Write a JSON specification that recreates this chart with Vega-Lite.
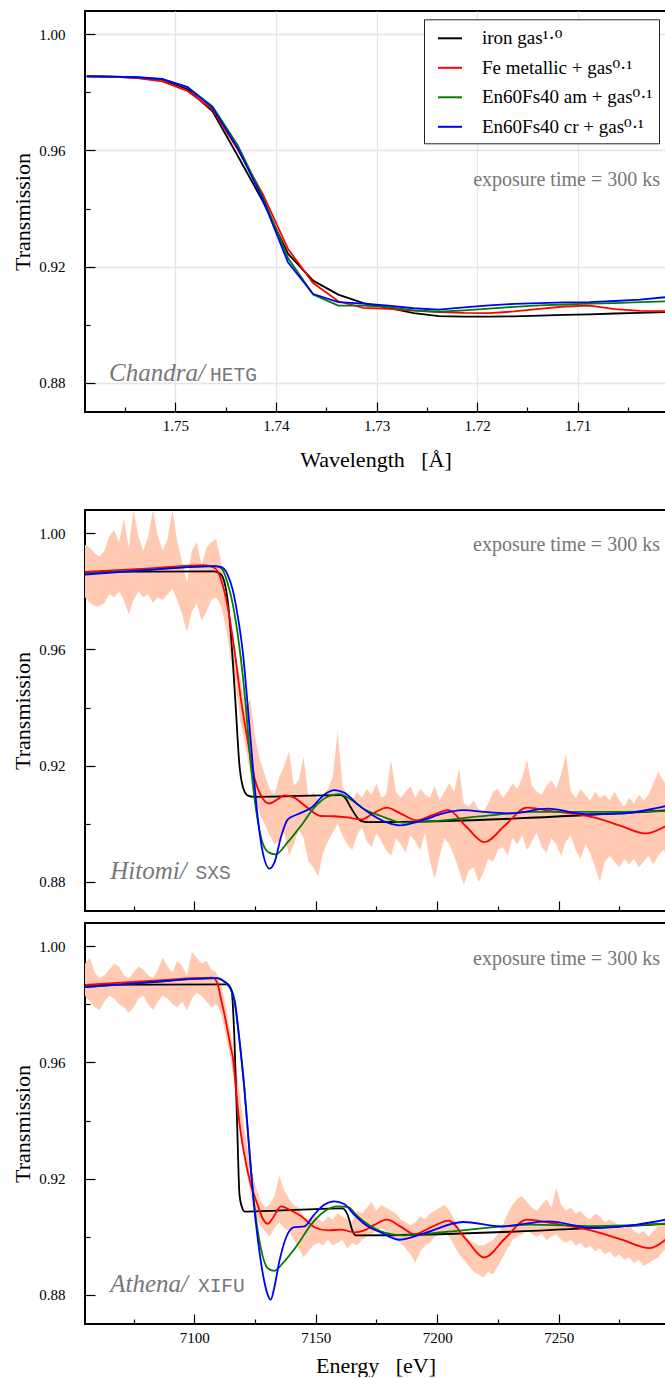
{
  "$schema": "https://vega.github.io/schema/vega-lite/v6.json",
  "background": "white",
  "padding": {"left": 10, "top": 10, "right": 0, "bottom": 0},
  "config": {
    "view": {"stroke": "black", "strokeWidth": 2},
    "axis": {
      "domain": false, "grid": true, "gridColor": "#e4e4e4", "gridWidth": 1.3,
      "tickColor": "black", "tickWidth": 1.2,
      "labelFont": "Liberation Serif", "labelFontSize": 15, "labelColor": "black",
      "titleFont": "Liberation Serif", "titleFontSize": 22, "titleFontWeight": "normal", "titleColor": "black"
    },
    "legend": {
      "orient": "none", "legendX": 339, "legendY": 8.3, "fillColor": "white", "strokeColor": "#222222",
      "padding": 6, "cornerRadius": 0, "symbolType": "stroke", "symbolSize": 576, "symbolOffset": 7,
      "symbolStrokeWidth": 2, "labelFont": "Liberation Serif, DejaVu Serif, serif", "labelFontSize": 19, "labelColor": "black",
      "labelOffset": 19, "rowPadding": 6.5, "labelLimit": 400
    }
  },
  "datasets": {
    "chandra": [
      {"lam": 1.7588, "T": 0.9855, "s": "iron gas"}, {"lam": 1.7563, "T": 0.9853, "s": "iron gas"}, {"lam": 1.7538, "T": 0.9851, "s": "iron gas"}, {"lam": 1.7513, "T": 0.9844, "s": "iron gas"}, {"lam": 1.7488, "T": 0.9811, "s": "iron gas"}, {"lam": 1.7463, "T": 0.9735, "s": "iron gas"}, {"lam": 1.7438, "T": 0.9582, "s": "iron gas"}, {"lam": 1.7413, "T": 0.9425, "s": "iron gas"}, {"lam": 1.7388, "T": 0.9245, "s": "iron gas"}, {"lam": 1.7363, "T": 0.9152, "s": "iron gas"}, {"lam": 1.7338, "T": 0.9104, "s": "iron gas"}, {"lam": 1.7313, "T": 0.9075, "s": "iron gas"}, {"lam": 1.7288, "T": 0.9058, "s": "iron gas"}, {"lam": 1.7263, "T": 0.9040, "s": "iron gas"}, {"lam": 1.7238, "T": 0.9030, "s": "iron gas"}, {"lam": 1.7213, "T": 0.9028, "s": "iron gas"}, {"lam": 1.7188, "T": 0.9028, "s": "iron gas"}, {"lam": 1.7163, "T": 0.9029, "s": "iron gas"}, {"lam": 1.7138, "T": 0.9032, "s": "iron gas"}, {"lam": 1.7113, "T": 0.9034, "s": "iron gas"}, {"lam": 1.7088, "T": 0.9036, "s": "iron gas"}, {"lam": 1.7063, "T": 0.9039, "s": "iron gas"}, {"lam": 1.7038, "T": 0.9041, "s": "iron gas"}, {"lam": 1.7013, "T": 0.9044, "s": "iron gas"},
      {"lam": 1.7588, "T": 0.9857, "s": "Fe metallic"}, {"lam": 1.7563, "T": 0.9854, "s": "Fe metallic"}, {"lam": 1.7538, "T": 0.9849, "s": "Fe metallic"}, {"lam": 1.7513, "T": 0.9838, "s": "Fe metallic"}, {"lam": 1.7488, "T": 0.9805, "s": "Fe metallic"}, {"lam": 1.7463, "T": 0.9741, "s": "Fe metallic"}, {"lam": 1.7438, "T": 0.9603, "s": "Fe metallic"}, {"lam": 1.7413, "T": 0.9450, "s": "Fe metallic"}, {"lam": 1.7388, "T": 0.9261, "s": "Fe metallic"}, {"lam": 1.7363, "T": 0.9144, "s": "Fe metallic"}, {"lam": 1.7338, "T": 0.9081, "s": "Fe metallic"}, {"lam": 1.7313, "T": 0.9058, "s": "Fe metallic"}, {"lam": 1.7288, "T": 0.9055, "s": "Fe metallic"}, {"lam": 1.7263, "T": 0.9049, "s": "Fe metallic"}, {"lam": 1.7238, "T": 0.9044, "s": "Fe metallic"}, {"lam": 1.7213, "T": 0.9041, "s": "Fe metallic"}, {"lam": 1.7188, "T": 0.9040, "s": "Fe metallic"}, {"lam": 1.7163, "T": 0.9046, "s": "Fe metallic"}, {"lam": 1.7138, "T": 0.9055, "s": "Fe metallic"}, {"lam": 1.7113, "T": 0.9063, "s": "Fe metallic"}, {"lam": 1.7088, "T": 0.9066, "s": "Fe metallic"}, {"lam": 1.7063, "T": 0.9054, "s": "Fe metallic"}, {"lam": 1.7038, "T": 0.9048, "s": "Fe metallic"}, {"lam": 1.7013, "T": 0.9047, "s": "Fe metallic"},
      {"lam": 1.7588, "T": 0.9855, "s": "En60Fs40 am"}, {"lam": 1.7563, "T": 0.9854, "s": "En60Fs40 am"}, {"lam": 1.7538, "T": 0.9852, "s": "En60Fs40 am"}, {"lam": 1.7513, "T": 0.9845, "s": "En60Fs40 am"}, {"lam": 1.7488, "T": 0.9818, "s": "En60Fs40 am"}, {"lam": 1.7463, "T": 0.9752, "s": "En60Fs40 am"}, {"lam": 1.7438, "T": 0.9618, "s": "En60Fs40 am"}, {"lam": 1.7413, "T": 0.9440, "s": "En60Fs40 am"}, {"lam": 1.7388, "T": 0.9230, "s": "En60Fs40 am"}, {"lam": 1.7363, "T": 0.9104, "s": "En60Fs40 am"}, {"lam": 1.7338, "T": 0.9066, "s": "En60Fs40 am"}, {"lam": 1.7313, "T": 0.9066, "s": "En60Fs40 am"}, {"lam": 1.7288, "T": 0.9061, "s": "En60Fs40 am"}, {"lam": 1.7263, "T": 0.9050, "s": "En60Fs40 am"}, {"lam": 1.7238, "T": 0.9045, "s": "En60Fs40 am"}, {"lam": 1.7213, "T": 0.9050, "s": "En60Fs40 am"}, {"lam": 1.7188, "T": 0.9056, "s": "En60Fs40 am"}, {"lam": 1.7163, "T": 0.9062, "s": "En60Fs40 am"}, {"lam": 1.7138, "T": 0.9067, "s": "En60Fs40 am"}, {"lam": 1.7113, "T": 0.9070, "s": "En60Fs40 am"}, {"lam": 1.7088, "T": 0.9073, "s": "En60Fs40 am"}, {"lam": 1.7063, "T": 0.9075, "s": "En60Fs40 am"}, {"lam": 1.7038, "T": 0.9078, "s": "En60Fs40 am"}, {"lam": 1.7013, "T": 0.9081, "s": "En60Fs40 am"},
      {"lam": 1.7588, "T": 0.9855, "s": "En60Fs40 cr"}, {"lam": 1.7563, "T": 0.9854, "s": "En60Fs40 cr"}, {"lam": 1.7538, "T": 0.9852, "s": "En60Fs40 cr"}, {"lam": 1.7513, "T": 0.9846, "s": "En60Fs40 cr"}, {"lam": 1.7488, "T": 0.9818, "s": "En60Fs40 cr"}, {"lam": 1.7463, "T": 0.9747, "s": "En60Fs40 cr"}, {"lam": 1.7438, "T": 0.9609, "s": "En60Fs40 cr"}, {"lam": 1.7413, "T": 0.9432, "s": "En60Fs40 cr"}, {"lam": 1.7388, "T": 0.9215, "s": "En60Fs40 cr"}, {"lam": 1.7363, "T": 0.9106, "s": "En60Fs40 cr"}, {"lam": 1.7338, "T": 0.9078, "s": "En60Fs40 cr"}, {"lam": 1.7313, "T": 0.9073, "s": "En60Fs40 cr"}, {"lam": 1.7288, "T": 0.9066, "s": "En60Fs40 cr"}, {"lam": 1.7263, "T": 0.9057, "s": "En60Fs40 cr"}, {"lam": 1.7238, "T": 0.9052, "s": "En60Fs40 cr"}, {"lam": 1.7213, "T": 0.9060, "s": "En60Fs40 cr"}, {"lam": 1.7188, "T": 0.9067, "s": "En60Fs40 cr"}, {"lam": 1.7163, "T": 0.9072, "s": "En60Fs40 cr"}, {"lam": 1.7138, "T": 0.9075, "s": "En60Fs40 cr"}, {"lam": 1.7113, "T": 0.9077, "s": "En60Fs40 cr"}, {"lam": 1.7088, "T": 0.9078, "s": "En60Fs40 cr"}, {"lam": 1.7063, "T": 0.9082, "s": "En60Fs40 cr"}, {"lam": 1.7038, "T": 0.9087, "s": "En60Fs40 cr"}, {"lam": 1.7013, "T": 0.9095, "s": "En60Fs40 cr"}
    ],
    "hitomi": [
      {"E": 7055, "T": 0.9867, "s": "iron gas"}, {"E": 7108.2, "T": 0.9869, "s": "iron gas"}, {"E": 7111, "T": 0.9858, "s": "iron gas"}, {"E": 7113.7, "T": 0.9772, "s": "iron gas"}, {"E": 7115.8, "T": 0.9566, "s": "iron gas"}, {"E": 7117.2, "T": 0.9382, "s": "iron gas"}, {"E": 7118.5, "T": 0.9210, "s": "iron gas"}, {"E": 7119.9, "T": 0.9130, "s": "iron gas"}, {"E": 7121.9, "T": 0.9098, "s": "iron gas"}, {"E": 7124.6, "T": 0.9093, "s": "iron gas"}, {"E": 7160.4, "T": 0.9099, "s": "iron gas"}, {"E": 7162.5, "T": 0.9085, "s": "iron gas"}, {"E": 7164.5, "T": 0.9055, "s": "iron gas"}, {"E": 7168.6, "T": 0.9010, "s": "iron gas"}, {"E": 7171.4, "T": 0.9006, "s": "iron gas"}, {"E": 7294, "T": 0.9046, "s": "iron gas"},
      {"E": 7055, "T": 0.9867, "s": "Fe metallic"}, {"E": 7080, "T": 0.9878, "s": "Fe metallic"}, {"E": 7104.1, "T": 0.9890, "s": "Fe metallic"}, {"E": 7108.2, "T": 0.9881, "s": "Fe metallic"}, {"E": 7111, "T": 0.9841, "s": "Fe metallic"}, {"E": 7113.7, "T": 0.9749, "s": "Fe metallic"}, {"E": 7116.5, "T": 0.9600, "s": "Fe metallic"}, {"E": 7119.2, "T": 0.9428, "s": "Fe metallic"}, {"E": 7121.9, "T": 0.9290, "s": "Fe metallic"}, {"E": 7124.6, "T": 0.9164, "s": "Fe metallic"}, {"E": 7128.0, "T": 0.9090, "s": "Fe metallic"}, {"E": 7130.8, "T": 0.9070, "s": "Fe metallic"}, {"E": 7134.2, "T": 0.9084, "s": "Fe metallic"}, {"E": 7137, "T": 0.9098, "s": "Fe metallic"}, {"E": 7141.1, "T": 0.9090, "s": "Fe metallic"}, {"E": 7146.6, "T": 0.9055, "s": "Fe metallic"}, {"E": 7152.1, "T": 0.9027, "s": "Fe metallic"}, {"E": 7157.6, "T": 0.9026, "s": "Fe metallic"}, {"E": 7163, "T": 0.9022, "s": "Fe metallic"}, {"E": 7168.6, "T": 0.9015, "s": "Fe metallic"}, {"E": 7174.1, "T": 0.9038, "s": "Fe metallic"}, {"E": 7179.3, "T": 0.9056, "s": "Fe metallic"}, {"E": 7185, "T": 0.9035, "s": "Fe metallic"}, {"E": 7191.5, "T": 0.9012, "s": "Fe metallic"}, {"E": 7198, "T": 0.9030, "s": "Fe metallic"}, {"E": 7204.6, "T": 0.9047, "s": "Fe metallic"}, {"E": 7212, "T": 0.8990, "s": "Fe metallic"}, {"E": 7219.4, "T": 0.8937, "s": "Fe metallic"}, {"E": 7228, "T": 0.8995, "s": "Fe metallic"}, {"E": 7236.9, "T": 0.9056, "s": "Fe metallic"}, {"E": 7247.3, "T": 0.9044, "s": "Fe metallic"}, {"E": 7256, "T": 0.9035, "s": "Fe metallic"}, {"E": 7264.8, "T": 0.9021, "s": "Fe metallic"}, {"E": 7275, "T": 0.8995, "s": "Fe metallic"}, {"E": 7285.7, "T": 0.8967, "s": "Fe metallic"}, {"E": 7294, "T": 0.8992, "s": "Fe metallic"},
      {"E": 7055, "T": 0.9861, "s": "En60Fs40 am"}, {"E": 7080, "T": 0.9874, "s": "En60Fs40 am"}, {"E": 7108.2, "T": 0.9887, "s": "En60Fs40 am"}, {"E": 7111, "T": 0.9881, "s": "En60Fs40 am"}, {"E": 7113.7, "T": 0.9829, "s": "En60Fs40 am"}, {"E": 7116.5, "T": 0.9726, "s": "En60Fs40 am"}, {"E": 7119.2, "T": 0.9566, "s": "En60Fs40 am"}, {"E": 7121.2, "T": 0.9405, "s": "En60Fs40 am"}, {"E": 7123.3, "T": 0.9199, "s": "En60Fs40 am"}, {"E": 7125.4, "T": 0.9050, "s": "En60Fs40 am"}, {"E": 7128.1, "T": 0.8935, "s": "En60Fs40 am"}, {"E": 7130.8, "T": 0.8901, "s": "En60Fs40 am"}, {"E": 7133.5, "T": 0.8895, "s": "En60Fs40 am"}, {"E": 7138.3, "T": 0.8935, "s": "En60Fs40 am"}, {"E": 7143.8, "T": 0.8992, "s": "En60Fs40 am"}, {"E": 7149.3, "T": 0.9055, "s": "En60Fs40 am"}, {"E": 7154.8, "T": 0.9093, "s": "En60Fs40 am"}, {"E": 7159.6, "T": 0.9102, "s": "En60Fs40 am"}, {"E": 7164.4, "T": 0.9084, "s": "En60Fs40 am"}, {"E": 7169.9, "T": 0.9050, "s": "En60Fs40 am"}, {"E": 7176.8, "T": 0.9027, "s": "En60Fs40 am"}, {"E": 7186.3, "T": 0.9004, "s": "En60Fs40 am"}, {"E": 7200, "T": 0.9010, "s": "En60Fs40 am"}, {"E": 7212.4, "T": 0.9021, "s": "En60Fs40 am"}, {"E": 7225, "T": 0.9032, "s": "En60Fs40 am"}, {"E": 7238.6, "T": 0.9041, "s": "En60Fs40 am"}, {"E": 7264.8, "T": 0.9041, "s": "En60Fs40 am"}, {"E": 7294, "T": 0.9044, "s": "En60Fs40 am"},
      {"E": 7055, "T": 0.9858, "s": "En60Fs40 cr"}, {"E": 7080, "T": 0.9873, "s": "En60Fs40 cr"}, {"E": 7108.2, "T": 0.9887, "s": "En60Fs40 cr"}, {"E": 7111, "T": 0.9884, "s": "En60Fs40 cr"}, {"E": 7113.7, "T": 0.9858, "s": "En60Fs40 cr"}, {"E": 7115.8, "T": 0.9806, "s": "En60Fs40 cr"}, {"E": 7117.9, "T": 0.9714, "s": "En60Fs40 cr"}, {"E": 7120, "T": 0.9589, "s": "En60Fs40 cr"}, {"E": 7122, "T": 0.9405, "s": "En60Fs40 cr"}, {"E": 7124.1, "T": 0.9199, "s": "En60Fs40 cr"}, {"E": 7126.2, "T": 0.9015, "s": "En60Fs40 cr"}, {"E": 7128.2, "T": 0.8901, "s": "En60Fs40 cr"}, {"E": 7131, "T": 0.8846, "s": "En60Fs40 cr"}, {"E": 7133, "T": 0.8867, "s": "En60Fs40 cr"}, {"E": 7135.8, "T": 0.8958, "s": "En60Fs40 cr"}, {"E": 7138.5, "T": 0.9015, "s": "En60Fs40 cr"}, {"E": 7142.6, "T": 0.9033, "s": "En60Fs40 cr"}, {"E": 7148.1, "T": 0.9055, "s": "En60Fs40 cr"}, {"E": 7153.6, "T": 0.9101, "s": "En60Fs40 cr"}, {"E": 7157.7, "T": 0.9116, "s": "En60Fs40 cr"}, {"E": 7161.8, "T": 0.9107, "s": "En60Fs40 cr"}, {"E": 7167.3, "T": 0.9067, "s": "En60Fs40 cr"}, {"E": 7172.8, "T": 0.9033, "s": "En60Fs40 cr"}, {"E": 7176.9, "T": 0.9013, "s": "En60Fs40 cr"}, {"E": 7184.5, "T": 0.8995, "s": "En60Fs40 cr"}, {"E": 7194.9, "T": 0.9015, "s": "En60Fs40 cr"}, {"E": 7202, "T": 0.9035, "s": "En60Fs40 cr"}, {"E": 7210.7, "T": 0.9047, "s": "En60Fs40 cr"}, {"E": 7221, "T": 0.9040, "s": "En60Fs40 cr"}, {"E": 7229.9, "T": 0.9036, "s": "En60Fs40 cr"}, {"E": 7245.6, "T": 0.9052, "s": "En60Fs40 cr"}, {"E": 7261.3, "T": 0.9033, "s": "En60Fs40 cr"}, {"E": 7275, "T": 0.9035, "s": "En60Fs40 cr"}, {"E": 7294, "T": 0.9061, "s": "En60Fs40 cr"}
    ],
    "athena": [
      {"E": 7055, "T": 0.9867, "s": "iron gas"}, {"E": 7113.7, "T": 0.9869, "s": "iron gas"}, {"E": 7115.4, "T": 0.9844, "s": "iron gas"}, {"E": 7116.5, "T": 0.9684, "s": "iron gas"}, {"E": 7117.6, "T": 0.9397, "s": "iron gas"}, {"E": 7118.6, "T": 0.9145, "s": "iron gas"}, {"E": 7119.5, "T": 0.9105, "s": "iron gas"}, {"E": 7120.8, "T": 0.9087, "s": "iron gas"}, {"E": 7161, "T": 0.9098, "s": "iron gas"}, {"E": 7163.1, "T": 0.9076, "s": "iron gas"}, {"E": 7165.2, "T": 0.9019, "s": "iron gas"}, {"E": 7166.5, "T": 0.9005, "s": "iron gas"}, {"E": 7294, "T": 0.9045, "s": "iron gas"},
      {"E": 7055, "T": 0.9867, "s": "Fe metallic"}, {"E": 7080, "T": 0.9880, "s": "Fe metallic"}, {"E": 7107.5, "T": 0.9892, "s": "Fe metallic"}, {"E": 7109.5, "T": 0.9873, "s": "Fe metallic"}, {"E": 7110.9, "T": 0.9822, "s": "Fe metallic"}, {"E": 7113, "T": 0.9741, "s": "Fe metallic"}, {"E": 7114.8, "T": 0.9661, "s": "Fe metallic"}, {"E": 7116.1, "T": 0.9603, "s": "Fe metallic"}, {"E": 7117.1, "T": 0.9512, "s": "Fe metallic"}, {"E": 7118.5, "T": 0.9397, "s": "Fe metallic"}, {"E": 7120.6, "T": 0.9282, "s": "Fe metallic"}, {"E": 7123.3, "T": 0.9179, "s": "Fe metallic"}, {"E": 7126.1, "T": 0.9110, "s": "Fe metallic"}, {"E": 7128.1, "T": 0.9064, "s": "Fe metallic"}, {"E": 7130.2, "T": 0.9045, "s": "Fe metallic"}, {"E": 7132.3, "T": 0.9064, "s": "Fe metallic"}, {"E": 7135.7, "T": 0.9105, "s": "Fe metallic"}, {"E": 7139.2, "T": 0.9093, "s": "Fe metallic"}, {"E": 7144, "T": 0.9071, "s": "Fe metallic"}, {"E": 7149.5, "T": 0.9033, "s": "Fe metallic"}, {"E": 7155, "T": 0.9022, "s": "Fe metallic"}, {"E": 7160.4, "T": 0.9025, "s": "Fe metallic"}, {"E": 7165.9, "T": 0.9015, "s": "Fe metallic"}, {"E": 7170, "T": 0.9022, "s": "Fe metallic"}, {"E": 7174.1, "T": 0.9041, "s": "Fe metallic"}, {"E": 7179.3, "T": 0.9059, "s": "Fe metallic"}, {"E": 7185, "T": 0.9035, "s": "Fe metallic"}, {"E": 7190.6, "T": 0.9009, "s": "Fe metallic"}, {"E": 7198, "T": 0.9035, "s": "Fe metallic"}, {"E": 7204.6, "T": 0.9056, "s": "Fe metallic"}, {"E": 7212, "T": 0.8990, "s": "Fe metallic"}, {"E": 7219.4, "T": 0.8929, "s": "Fe metallic"}, {"E": 7228, "T": 0.8995, "s": "Fe metallic"}, {"E": 7236.9, "T": 0.9059, "s": "Fe metallic"}, {"E": 7247.3, "T": 0.9047, "s": "Fe metallic"}, {"E": 7256, "T": 0.9035, "s": "Fe metallic"}, {"E": 7264.8, "T": 0.9019, "s": "Fe metallic"}, {"E": 7276, "T": 0.8990, "s": "Fe metallic"}, {"E": 7287.5, "T": 0.8961, "s": "Fe metallic"}, {"E": 7294, "T": 0.8990, "s": "Fe metallic"},
      {"E": 7055, "T": 0.9859, "s": "En60Fs40 am"}, {"E": 7080, "T": 0.9875, "s": "En60Fs40 am"}, {"E": 7108.8, "T": 0.9890, "s": "En60Fs40 am"}, {"E": 7114.3, "T": 0.9861, "s": "En60Fs40 am"}, {"E": 7116.5, "T": 0.9810, "s": "En60Fs40 am"}, {"E": 7118.5, "T": 0.9684, "s": "En60Fs40 am"}, {"E": 7120.6, "T": 0.9512, "s": "En60Fs40 am"}, {"E": 7122.6, "T": 0.9305, "s": "En60Fs40 am"}, {"E": 7124.7, "T": 0.9110, "s": "En60Fs40 am"}, {"E": 7127.4, "T": 0.8961, "s": "En60Fs40 am"}, {"E": 7130.2, "T": 0.8892, "s": "En60Fs40 am"}, {"E": 7132.9, "T": 0.8883, "s": "En60Fs40 am"}, {"E": 7137, "T": 0.8915, "s": "En60Fs40 am"}, {"E": 7142.5, "T": 0.8973, "s": "En60Fs40 am"}, {"E": 7148, "T": 0.9041, "s": "En60Fs40 am"}, {"E": 7153.5, "T": 0.9087, "s": "En60Fs40 am"}, {"E": 7159, "T": 0.9105, "s": "En60Fs40 am"}, {"E": 7163.1, "T": 0.9103, "s": "En60Fs40 am"}, {"E": 7167.2, "T": 0.9071, "s": "En60Fs40 am"}, {"E": 7172.7, "T": 0.9036, "s": "En60Fs40 am"}, {"E": 7176.8, "T": 0.9019, "s": "En60Fs40 am"}, {"E": 7186.3, "T": 0.9005, "s": "En60Fs40 am"}, {"E": 7200, "T": 0.9014, "s": "En60Fs40 am"}, {"E": 7212.4, "T": 0.9024, "s": "En60Fs40 am"}, {"E": 7225, "T": 0.9034, "s": "En60Fs40 am"}, {"E": 7238.6, "T": 0.9042, "s": "En60Fs40 am"}, {"E": 7264.8, "T": 0.9037, "s": "En60Fs40 am"}, {"E": 7294, "T": 0.9045, "s": "En60Fs40 am"},
      {"E": 7055, "T": 0.9859, "s": "En60Fs40 cr"}, {"E": 7080, "T": 0.9875, "s": "En60Fs40 cr"}, {"E": 7109.5, "T": 0.9890, "s": "En60Fs40 cr"}, {"E": 7112.3, "T": 0.9879, "s": "En60Fs40 cr"}, {"E": 7115, "T": 0.9856, "s": "En60Fs40 cr"}, {"E": 7116.7, "T": 0.9810, "s": "En60Fs40 cr"}, {"E": 7118.5, "T": 0.9684, "s": "En60Fs40 cr"}, {"E": 7120.6, "T": 0.9512, "s": "En60Fs40 cr"}, {"E": 7122.6, "T": 0.9305, "s": "En60Fs40 cr"}, {"E": 7124.7, "T": 0.9099, "s": "En60Fs40 cr"}, {"E": 7126.8, "T": 0.8950, "s": "En60Fs40 cr"}, {"E": 7128.8, "T": 0.8847, "s": "En60Fs40 cr"}, {"E": 7130.2, "T": 0.8801, "s": "En60Fs40 cr"}, {"E": 7131.5, "T": 0.8784, "s": "En60Fs40 cr"}, {"E": 7132.9, "T": 0.8824, "s": "En60Fs40 cr"}, {"E": 7135, "T": 0.8915, "s": "En60Fs40 cr"}, {"E": 7137.7, "T": 0.8996, "s": "En60Fs40 cr"}, {"E": 7141.1, "T": 0.9033, "s": "En60Fs40 cr"}, {"E": 7145.3, "T": 0.9036, "s": "En60Fs40 cr"}, {"E": 7149.3, "T": 0.9076, "s": "En60Fs40 cr"}, {"E": 7153.5, "T": 0.9110, "s": "En60Fs40 cr"}, {"E": 7157.6, "T": 0.9122, "s": "En60Fs40 cr"}, {"E": 7161.7, "T": 0.9113, "s": "En60Fs40 cr"}, {"E": 7165.9, "T": 0.9076, "s": "En60Fs40 cr"}, {"E": 7171.4, "T": 0.9036, "s": "En60Fs40 cr"}, {"E": 7176.8, "T": 0.9015, "s": "En60Fs40 cr"}, {"E": 7184.5, "T": 0.8990, "s": "En60Fs40 cr"}, {"E": 7194.9, "T": 0.9013, "s": "En60Fs40 cr"}, {"E": 7210.7, "T": 0.9051, "s": "En60Fs40 cr"}, {"E": 7226.4, "T": 0.9036, "s": "En60Fs40 cr"}, {"E": 7245.6, "T": 0.9053, "s": "En60Fs40 cr"}, {"E": 7264.8, "T": 0.9030, "s": "En60Fs40 cr"}, {"E": 7282.2, "T": 0.9042, "s": "En60Fs40 cr"}, {"E": 7294, "T": 0.9059, "s": "En60Fs40 cr"}
    ],
    "hband": [
      {"E": 7055, "lo": 0.978, "hi": 0.996}, {"E": 7057, "lo": 0.976, "hi": 0.995}, {"E": 7059, "lo": 0.975, "hi": 0.993}, {"E": 7061, "lo": 0.975, "hi": 0.992}, {"E": 7063, "lo": 0.976, "hi": 0.994}, {"E": 7065, "lo": 0.979, "hi": 0.999}, {"E": 7067, "lo": 0.978, "hi": 1.001}, {"E": 7069, "lo": 0.980, "hi": 0.997}, {"E": 7071, "lo": 0.977, "hi": 1.005}, {"E": 7073, "lo": 0.972, "hi": 0.995}, {"E": 7075, "lo": 0.977, "hi": 1.008}, {"E": 7077, "lo": 0.980, "hi": 0.999}, {"E": 7079, "lo": 0.978, "hi": 0.994}, {"E": 7081, "lo": 0.979, "hi": 0.999}, {"E": 7083, "lo": 0.976, "hi": 1.008}, {"E": 7085, "lo": 0.978, "hi": 0.999}, {"E": 7087, "lo": 0.977, "hi": 0.994}, {"E": 7089, "lo": 0.979, "hi": 0.998}, {"E": 7091, "lo": 0.981, "hi": 1.008}, {"E": 7093, "lo": 0.977, "hi": 0.997}, {"E": 7095, "lo": 0.972, "hi": 0.990}, {"E": 7097, "lo": 0.966, "hi": 0.983}, {"E": 7099, "lo": 0.973, "hi": 0.994}, {"E": 7101, "lo": 0.976, "hi": 0.997}, {"E": 7103, "lo": 0.970, "hi": 0.989}, {"E": 7105, "lo": 0.973, "hi": 0.995}, {"E": 7107, "lo": 0.977, "hi": 0.997}, {"E": 7109, "lo": 0.978, "hi": 0.998}, {"E": 7111, "lo": 0.975, "hi": 0.990}, {"E": 7113, "lo": 0.968, "hi": 0.979}, {"E": 7115, "lo": 0.957, "hi": 0.968}, {"E": 7117, "lo": 0.948, "hi": 0.958}, {"E": 7119, "lo": 0.935, "hi": 0.950}, {"E": 7121, "lo": 0.927, "hi": 0.940}, {"E": 7123, "lo": 0.918, "hi": 0.943}, {"E": 7125, "lo": 0.910, "hi": 0.930}, {"E": 7127, "lo": 0.903, "hi": 0.922}, {"E": 7129, "lo": 0.900, "hi": 0.917}, {"E": 7131, "lo": 0.896, "hi": 0.912}, {"E": 7133, "lo": 0.893, "hi": 0.910}, {"E": 7135, "lo": 0.894, "hi": 0.916}, {"E": 7137, "lo": 0.897, "hi": 0.920}, {"E": 7139, "lo": 0.889, "hi": 0.925}, {"E": 7141, "lo": 0.893, "hi": 0.913}, {"E": 7143, "lo": 0.898, "hi": 0.915}, {"E": 7145, "lo": 0.895, "hi": 0.923}, {"E": 7147, "lo": 0.887, "hi": 0.909}, {"E": 7149, "lo": 0.885, "hi": 0.911}, {"E": 7151, "lo": 0.882, "hi": 0.908}, {"E": 7153, "lo": 0.890, "hi": 0.910}, {"E": 7155, "lo": 0.894, "hi": 0.912}, {"E": 7157, "lo": 0.897, "hi": 0.916}, {"E": 7159, "lo": 0.900, "hi": 0.932}, {"E": 7161, "lo": 0.896, "hi": 0.913}, {"E": 7163, "lo": 0.893, "hi": 0.910}, {"E": 7165, "lo": 0.891, "hi": 0.908}, {"E": 7167, "lo": 0.896, "hi": 0.911}, {"E": 7169, "lo": 0.899, "hi": 0.909}, {"E": 7171, "lo": 0.894, "hi": 0.912}, {"E": 7173, "lo": 0.892, "hi": 0.910}, {"E": 7175, "lo": 0.897, "hi": 0.914}, {"E": 7177, "lo": 0.894, "hi": 0.909}, {"E": 7179, "lo": 0.891, "hi": 0.910}, {"E": 7181, "lo": 0.889, "hi": 0.922}, {"E": 7183, "lo": 0.895, "hi": 0.911}, {"E": 7185, "lo": 0.893, "hi": 0.909}, {"E": 7187, "lo": 0.890, "hi": 0.911}, {"E": 7189, "lo": 0.896, "hi": 0.913}, {"E": 7191, "lo": 0.894, "hi": 0.909}, {"E": 7193, "lo": 0.891, "hi": 0.912}, {"E": 7195, "lo": 0.897, "hi": 0.910}, {"E": 7197, "lo": 0.887, "hi": 0.909}, {"E": 7199, "lo": 0.881, "hi": 0.913}, {"E": 7201, "lo": 0.889, "hi": 0.908}, {"E": 7203, "lo": 0.895, "hi": 0.911}, {"E": 7205, "lo": 0.893, "hi": 0.914}, {"E": 7207, "lo": 0.889, "hi": 0.911}, {"E": 7209, "lo": 0.884, "hi": 0.919}, {"E": 7211, "lo": 0.879, "hi": 0.907}, {"E": 7213, "lo": 0.884, "hi": 0.906}, {"E": 7215, "lo": 0.885, "hi": 0.908}, {"E": 7217, "lo": 0.880, "hi": 0.905}, {"E": 7219, "lo": 0.883, "hi": 0.904}, {"E": 7221, "lo": 0.888, "hi": 0.907}, {"E": 7223, "lo": 0.887, "hi": 0.911}, {"E": 7225, "lo": 0.891, "hi": 0.912}, {"E": 7227, "lo": 0.892, "hi": 0.909}, {"E": 7229, "lo": 0.889, "hi": 0.911}, {"E": 7231, "lo": 0.895, "hi": 0.914}, {"E": 7233, "lo": 0.893, "hi": 0.912}, {"E": 7235, "lo": 0.896, "hi": 0.916}, {"E": 7237, "lo": 0.891, "hi": 0.922}, {"E": 7239, "lo": 0.894, "hi": 0.913}, {"E": 7241, "lo": 0.897, "hi": 0.911}, {"E": 7243, "lo": 0.892, "hi": 0.910}, {"E": 7245, "lo": 0.890, "hi": 0.913}, {"E": 7247, "lo": 0.895, "hi": 0.915}, {"E": 7249, "lo": 0.893, "hi": 0.912}, {"E": 7251, "lo": 0.889, "hi": 0.917}, {"E": 7253, "lo": 0.894, "hi": 0.924}, {"E": 7255, "lo": 0.896, "hi": 0.911}, {"E": 7257, "lo": 0.891, "hi": 0.909}, {"E": 7259, "lo": 0.888, "hi": 0.912}, {"E": 7261, "lo": 0.893, "hi": 0.910}, {"E": 7263, "lo": 0.890, "hi": 0.908}, {"E": 7265, "lo": 0.885, "hi": 0.911}, {"E": 7267, "lo": 0.880, "hi": 0.909}, {"E": 7269, "lo": 0.887, "hi": 0.910}, {"E": 7271, "lo": 0.889, "hi": 0.908}, {"E": 7273, "lo": 0.887, "hi": 0.911}, {"E": 7275, "lo": 0.885, "hi": 0.908}, {"E": 7277, "lo": 0.888, "hi": 0.906}, {"E": 7279, "lo": 0.886, "hi": 0.909}, {"E": 7281, "lo": 0.888, "hi": 0.907}, {"E": 7283, "lo": 0.885, "hi": 0.910}, {"E": 7285, "lo": 0.887, "hi": 0.908}, {"E": 7287, "lo": 0.889, "hi": 0.910}, {"E": 7289, "lo": 0.886, "hi": 0.914}, {"E": 7291, "lo": 0.889, "hi": 0.918}, {"E": 7293, "lo": 0.891, "hi": 0.915}, {"E": 7294.5, "lo": 0.890, "hi": 0.913}
    ],
    "aband": [
      {"E": 7055, "lo": 0.983, "hi": 0.994}, {"E": 7057, "lo": 0.981, "hi": 0.996}, {"E": 7059, "lo": 0.979, "hi": 0.991}, {"E": 7061, "lo": 0.978, "hi": 0.989}, {"E": 7063, "lo": 0.981, "hi": 0.990}, {"E": 7065, "lo": 0.983, "hi": 0.992}, {"E": 7067, "lo": 0.982, "hi": 0.994}, {"E": 7069, "lo": 0.980, "hi": 0.993}, {"E": 7071, "lo": 0.979, "hi": 0.990}, {"E": 7073, "lo": 0.977, "hi": 0.989}, {"E": 7075, "lo": 0.979, "hi": 0.991}, {"E": 7077, "lo": 0.982, "hi": 0.993}, {"E": 7079, "lo": 0.983, "hi": 0.992}, {"E": 7081, "lo": 0.980, "hi": 0.990}, {"E": 7083, "lo": 0.978, "hi": 0.989}, {"E": 7085, "lo": 0.981, "hi": 0.992}, {"E": 7087, "lo": 0.983, "hi": 0.996}, {"E": 7089, "lo": 0.982, "hi": 0.993}, {"E": 7091, "lo": 0.980, "hi": 0.991}, {"E": 7093, "lo": 0.979, "hi": 0.995}, {"E": 7095, "lo": 0.981, "hi": 0.993}, {"E": 7097, "lo": 0.978, "hi": 0.990}, {"E": 7099, "lo": 0.982, "hi": 0.998}, {"E": 7101, "lo": 0.984, "hi": 0.996}, {"E": 7103, "lo": 0.983, "hi": 0.994}, {"E": 7105, "lo": 0.981, "hi": 0.995}, {"E": 7107, "lo": 0.979, "hi": 0.992}, {"E": 7109, "lo": 0.980, "hi": 0.991}, {"E": 7111, "lo": 0.977, "hi": 0.987}, {"E": 7113, "lo": 0.969, "hi": 0.979}, {"E": 7115, "lo": 0.961, "hi": 0.970}, {"E": 7117, "lo": 0.950, "hi": 0.960}, {"E": 7119, "lo": 0.935, "hi": 0.947}, {"E": 7121, "lo": 0.925, "hi": 0.935}, {"E": 7123, "lo": 0.915, "hi": 0.925}, {"E": 7125, "lo": 0.908, "hi": 0.918}, {"E": 7127, "lo": 0.904, "hi": 0.913}, {"E": 7129, "lo": 0.902, "hi": 0.910}, {"E": 7131, "lo": 0.900, "hi": 0.911}, {"E": 7133, "lo": 0.903, "hi": 0.914}, {"E": 7135, "lo": 0.905, "hi": 0.921}, {"E": 7137, "lo": 0.903, "hi": 0.916}, {"E": 7139, "lo": 0.902, "hi": 0.913}, {"E": 7141, "lo": 0.899, "hi": 0.911}, {"E": 7143, "lo": 0.896, "hi": 0.910}, {"E": 7145, "lo": 0.893, "hi": 0.907}, {"E": 7147, "lo": 0.895, "hi": 0.906}, {"E": 7149, "lo": 0.897, "hi": 0.908}, {"E": 7151, "lo": 0.898, "hi": 0.906}, {"E": 7153, "lo": 0.897, "hi": 0.905}, {"E": 7155, "lo": 0.899, "hi": 0.907}, {"E": 7157, "lo": 0.897, "hi": 0.906}, {"E": 7159, "lo": 0.898, "hi": 0.908}, {"E": 7161, "lo": 0.899, "hi": 0.907}, {"E": 7163, "lo": 0.896, "hi": 0.906}, {"E": 7165, "lo": 0.898, "hi": 0.905}, {"E": 7167, "lo": 0.897, "hi": 0.909}, {"E": 7169, "lo": 0.899, "hi": 0.908}, {"E": 7171, "lo": 0.900, "hi": 0.910}, {"E": 7173, "lo": 0.901, "hi": 0.912}, {"E": 7175, "lo": 0.902, "hi": 0.909}, {"E": 7177, "lo": 0.903, "hi": 0.911}, {"E": 7179, "lo": 0.902, "hi": 0.910}, {"E": 7181, "lo": 0.900, "hi": 0.909}, {"E": 7183, "lo": 0.899, "hi": 0.908}, {"E": 7185, "lo": 0.898, "hi": 0.906}, {"E": 7187, "lo": 0.896, "hi": 0.905}, {"E": 7189, "lo": 0.894, "hi": 0.904}, {"E": 7191, "lo": 0.891, "hi": 0.905}, {"E": 7193, "lo": 0.895, "hi": 0.907}, {"E": 7195, "lo": 0.897, "hi": 0.906}, {"E": 7197, "lo": 0.898, "hi": 0.908}, {"E": 7199, "lo": 0.900, "hi": 0.909}, {"E": 7201, "lo": 0.901, "hi": 0.910}, {"E": 7203, "lo": 0.902, "hi": 0.911}, {"E": 7205, "lo": 0.900, "hi": 0.909}, {"E": 7207, "lo": 0.897, "hi": 0.906}, {"E": 7209, "lo": 0.894, "hi": 0.903}, {"E": 7211, "lo": 0.892, "hi": 0.901}, {"E": 7213, "lo": 0.890, "hi": 0.899}, {"E": 7215, "lo": 0.888, "hi": 0.898}, {"E": 7217, "lo": 0.887, "hi": 0.897}, {"E": 7219, "lo": 0.886, "hi": 0.897}, {"E": 7221, "lo": 0.888, "hi": 0.898}, {"E": 7223, "lo": 0.887, "hi": 0.899}, {"E": 7225, "lo": 0.890, "hi": 0.901}, {"E": 7227, "lo": 0.893, "hi": 0.904}, {"E": 7229, "lo": 0.896, "hi": 0.908}, {"E": 7231, "lo": 0.899, "hi": 0.911}, {"E": 7233, "lo": 0.900, "hi": 0.913}, {"E": 7235, "lo": 0.901, "hi": 0.914}, {"E": 7237, "lo": 0.902, "hi": 0.912}, {"E": 7239, "lo": 0.901, "hi": 0.910}, {"E": 7241, "lo": 0.900, "hi": 0.909}, {"E": 7243, "lo": 0.901, "hi": 0.911}, {"E": 7245, "lo": 0.899, "hi": 0.913}, {"E": 7247, "lo": 0.900, "hi": 0.910}, {"E": 7249, "lo": 0.901, "hi": 0.917}, {"E": 7251, "lo": 0.899, "hi": 0.911}, {"E": 7253, "lo": 0.898, "hi": 0.909}, {"E": 7255, "lo": 0.899, "hi": 0.910}, {"E": 7257, "lo": 0.897, "hi": 0.908}, {"E": 7259, "lo": 0.898, "hi": 0.909}, {"E": 7261, "lo": 0.896, "hi": 0.907}, {"E": 7263, "lo": 0.897, "hi": 0.906}, {"E": 7265, "lo": 0.895, "hi": 0.908}, {"E": 7267, "lo": 0.896, "hi": 0.907}, {"E": 7269, "lo": 0.894, "hi": 0.905}, {"E": 7271, "lo": 0.895, "hi": 0.906}, {"E": 7273, "lo": 0.893, "hi": 0.905}, {"E": 7275, "lo": 0.894, "hi": 0.904}, {"E": 7277, "lo": 0.892, "hi": 0.903}, {"E": 7279, "lo": 0.893, "hi": 0.904}, {"E": 7281, "lo": 0.891, "hi": 0.902}, {"E": 7283, "lo": 0.892, "hi": 0.901}, {"E": 7285, "lo": 0.890, "hi": 0.902}, {"E": 7287, "lo": 0.891, "hi": 0.900}, {"E": 7289, "lo": 0.892, "hi": 0.902}, {"E": 7291, "lo": 0.893, "hi": 0.904}, {"E": 7293, "lo": 0.895, "hi": 0.905}, {"E": 7294.5, "lo": 0.896, "hi": 0.906}
    ],
    "expo": [{"label": "exposure time = 300 ks"}],
    "chandraName": [{"label": "Chandra/"}],
    "chandraInst": [{"label": "HETG"}],
    "hitomiName": [{"label": "Hitomi/"}],
    "hitomiInst": [{"label": "SXS"}],
    "athenaName": [{"label": "Athena/"}],
    "athenaInst": [{"label": "XIFU"}]
  },
  "spacing": 38,
  "resolve": {"scale": {"x": "independent", "y": "independent", "color": "independent"}},
  "vconcat": [
    {
      "width": 581, "height": 401,
      "resolve": {"axis": {"x": "independent", "y": "independent"}},
      "layer": [
        {
          "data": {"name": "chandra"},
          "mark": {"type": "line", "strokeWidth": 1.8, "clip": true},
          "encoding": {
            "x": {"field": "lam", "type": "quantitative",
              "scale": {"domain": [1.70122, 1.75898], "reverse": true, "nice": false, "zero": false},
              "axis": {"orient": "bottom", "values": [1.71, 1.72, 1.73, 1.74, 1.75], "format": ".2f", "tickSize": -10, "labelPadding": 16, "labelFont": "Liberation Serif", "title": "Wavelength\u2002\u2005[Å]", "titleBaseline": "alphabetic", "titleY": 54}},
            "y": {"field": "T", "type": "quantitative",
              "scale": {"domain": [0.87, 1.008], "nice": false, "zero": false},
              "axis": {"orient": "left", "values": [0.88, 0.92, 0.96, 1.0], "format": ".2f", "tickSize": -10, "labelPadding": 30, "labelFont": "Liberation Serif", "title": "Transmission", "titleBaseline": "alphabetic", "titleX": -56, "titleY": 200.5}},
            "color": {"field": "s", "type": "nominal",
              "scale": {"domain": ["iron gas", "Fe metallic", "En60Fs40 am", "En60Fs40 cr"], "range": ["#000000", "#ff0000", "#008000", "#0000ff"]},
              "legend": {"title": null, "labelFont": "Liberation Serif, DejaVu Serif, serif", "labelExpr": "datum.label == 'iron gas' ? 'iron gas¹·⁰' : datum.label + ' + gas⁰·¹'"}}
          }
        },
        {
          "data": {"name": "chandra"},
          "mark": {"type": "point", "opacity": 0},
          "encoding": {
            "x": {"field": "lam", "type": "quantitative", "axis": {"orient": "bottom", "values": [1.705, 1.715, 1.725, 1.735, 1.745, 1.755], "labels": false, "grid": false, "tickSize": -5, "title": null}},
            "y": {"field": "T", "type": "quantitative", "axis": {"orient": "left", "values": [0.9, 0.94, 0.98], "labels": false, "grid": false, "tickSize": -5, "title": null}}
          }
        },
        {
          "data": {"name": "expo"},
          "mark": {"type": "text", "align": "right", "baseline": "alphabetic", "font": "Liberation Serif", "fontSize": 20, "color": "#777777"},
          "encoding": {"x": {"datum": 1.70182, "type": "quantitative", "axis": null}, "y": {"datum": 0.9479, "type": "quantitative", "axis": null}, "text": {"field": "label"}}
        },
        {
          "data": {"name": "chandraName"},
          "mark": {"type": "text", "align": "left", "baseline": "alphabetic", "font": "Liberation Serif", "fontStyle": "italic", "fontSize": 25, "color": "#777777"},
          "encoding": {"x": {"datum": 1.75659, "type": "quantitative", "axis": null}, "y": {"datum": 0.8806, "type": "quantitative", "axis": null}, "text": {"field": "label"}}
        },
        {
          "data": {"name": "chandraInst"},
          "mark": {"type": "text", "align": "left", "baseline": "alphabetic", "font": "Liberation Mono", "fontSize": 19.5, "color": "#777777"},
          "encoding": {"x": {"datum": 1.74655, "type": "quantitative", "axis": null}, "y": {"datum": 0.8806, "type": "quantitative", "axis": null}, "text": {"field": "label"}}
        }
      ]
    },
    {
      "spacing": 9,
      "resolve": {"scale": {"x": "independent", "y": "independent", "color": "independent"}},
      "vconcat": [
        {
          "width": 581, "height": 401,
          "resolve": {"axis": {"x": "independent", "y": "independent"}},
          "layer": [
            {
              "data": {"name": "hband"},
              "mark": {"type": "area", "color": "#ffc9b2", "clip": true},
              "encoding": {"x": {"field": "E", "type": "quantitative", "axis": null}, "y": {"field": "lo", "type": "quantitative", "axis": null}, "y2": {"field": "hi"}}
            },
            {
              "data": {"name": "hitomi"},
              "mark": {"type": "line", "strokeWidth": 1.8, "clip": true, "interpolate": "monotone"},
              "encoding": {
                "x": {"field": "E", "type": "quantitative",
                  "scale": {"domain": [7055.0, 7294.2], "nice": false, "zero": false},
                  "axis": {"orient": "bottom", "values": [7100, 7150, 7200, 7250], "labels": false, "tickSize": -10, "title": null}},
                "y": {"field": "T", "type": "quantitative",
                  "scale": {"domain": [0.87, 1.008], "nice": false, "zero": false},
                  "axis": {"orient": "left", "values": [0.88, 0.92, 0.96, 1.0], "format": ".2f", "tickSize": -10, "labelPadding": 30, "labelFont": "Liberation Serif", "title": "Transmission", "titleBaseline": "alphabetic", "titleX": -56, "titleY": 200.5}},
                "color": {"field": "s", "type": "nominal",
                  "scale": {"domain": ["iron gas", "Fe metallic", "En60Fs40 am", "En60Fs40 cr"], "range": ["#000000", "#ff0000", "#008000", "#0000ff"]},
                  "legend": null}
              }
            },
            {
              "data": {"name": "hitomi"},
              "mark": {"type": "point", "opacity": 0},
              "encoding": {
                "x": {"field": "E", "type": "quantitative", "axis": {"orient": "bottom", "values": [7075, 7125, 7175, 7225, 7275], "labels": false, "grid": false, "tickSize": -5, "title": null}},
                "y": {"field": "T", "type": "quantitative", "axis": {"orient": "left", "values": [0.9, 0.94, 0.98], "labels": false, "grid": false, "tickSize": -5, "title": null}}
              }
            },
            {
              "data": {"name": "expo"},
              "mark": {"type": "text", "align": "right", "baseline": "alphabetic", "font": "Liberation Serif", "fontSize": 20, "color": "#777777"},
              "encoding": {"x": {"datum": 7291.7, "type": "quantitative", "axis": null}, "y": {"datum": 0.9938, "type": "quantitative", "axis": null}, "text": {"field": "label"}}
            },
            {
              "data": {"name": "hitomiName"},
              "mark": {"type": "text", "align": "left", "baseline": "alphabetic", "font": "Liberation Serif", "fontStyle": "italic", "fontSize": 25, "color": "#777777"},
              "encoding": {"x": {"datum": 7065.4, "type": "quantitative", "axis": null}, "y": {"datum": 0.8809, "type": "quantitative", "axis": null}, "text": {"field": "label"}}
            },
            {
              "data": {"name": "hitomiInst"},
              "mark": {"type": "text", "align": "left", "baseline": "alphabetic", "font": "Liberation Mono", "fontSize": 19.5, "color": "#777777"},
              "encoding": {"x": {"datum": 7100.5, "type": "quantitative", "axis": null}, "y": {"datum": 0.8809, "type": "quantitative", "axis": null}, "text": {"field": "label"}}
            }
          ]
        },
        {
          "width": 581, "height": 401,
          "resolve": {"axis": {"x": "independent", "y": "independent"}},
          "layer": [
            {
              "data": {"name": "aband"},
              "mark": {"type": "area", "color": "#ffc9b2", "clip": true},
              "encoding": {"x": {"field": "E", "type": "quantitative", "axis": null}, "y": {"field": "lo", "type": "quantitative", "axis": null}, "y2": {"field": "hi"}}
            },
            {
              "data": {"name": "athena"},
              "mark": {"type": "line", "strokeWidth": 1.8, "clip": true, "interpolate": "monotone"},
              "encoding": {
                "x": {"field": "E", "type": "quantitative",
                  "scale": {"domain": [7055.0, 7294.2], "nice": false, "zero": false},
                  "axis": {"orient": "bottom", "values": [7100, 7150, 7200, 7250], "format": "d", "tickSize": -10, "labelPadding": 16, "labelFont": "Liberation Serif", "title": "Energy\u2002\u2005[eV]", "titleBaseline": "alphabetic", "titleY": 48}},
                "y": {"field": "T", "type": "quantitative",
                  "scale": {"domain": [0.87, 1.008], "nice": false, "zero": false},
                  "axis": {"orient": "left", "values": [0.88, 0.92, 0.96, 1.0], "format": ".2f", "tickSize": -10, "labelPadding": 30, "labelFont": "Liberation Serif", "title": "Transmission", "titleBaseline": "alphabetic", "titleX": -56, "titleY": 200.5}},
                "color": {"field": "s", "type": "nominal",
                  "scale": {"domain": ["iron gas", "Fe metallic", "En60Fs40 am", "En60Fs40 cr"], "range": ["#000000", "#ff0000", "#008000", "#0000ff"]},
                  "legend": null}
              }
            },
            {
              "data": {"name": "athena"},
              "mark": {"type": "point", "opacity": 0},
              "encoding": {
                "x": {"field": "E", "type": "quantitative", "axis": {"orient": "bottom", "values": [7075, 7125, 7175, 7225, 7275], "labels": false, "grid": false, "tickSize": -5, "title": null}},
                "y": {"field": "T", "type": "quantitative", "axis": {"orient": "left", "values": [0.9, 0.94, 0.98], "labels": false, "grid": false, "tickSize": -5, "title": null}}
              }
            },
            {
              "data": {"name": "expo"},
              "mark": {"type": "text", "align": "right", "baseline": "alphabetic", "font": "Liberation Serif", "fontSize": 20, "color": "#777777"},
              "encoding": {"x": {"datum": 7291.7, "type": "quantitative", "axis": null}, "y": {"datum": 0.9936, "type": "quantitative", "axis": null}, "text": {"field": "label"}}
            },
            {
              "data": {"name": "athenaName"},
              "mark": {"type": "text", "align": "left", "baseline": "alphabetic", "font": "Liberation Serif", "fontStyle": "italic", "fontSize": 25, "color": "#777777"},
              "encoding": {"x": {"datum": 7065.4, "type": "quantitative", "axis": null}, "y": {"datum": 0.8810, "type": "quantitative", "axis": null}, "text": {"field": "label"}}
            },
            {
              "data": {"name": "athenaInst"},
              "mark": {"type": "text", "align": "left", "baseline": "alphabetic", "font": "Liberation Mono", "fontSize": 19.5, "color": "#777777"},
              "encoding": {"x": {"datum": 7101.5, "type": "quantitative", "axis": null}, "y": {"datum": 0.8810, "type": "quantitative", "axis": null}, "text": {"field": "label"}}
            }
          ]
        }
      ]
    }
  ]
}
